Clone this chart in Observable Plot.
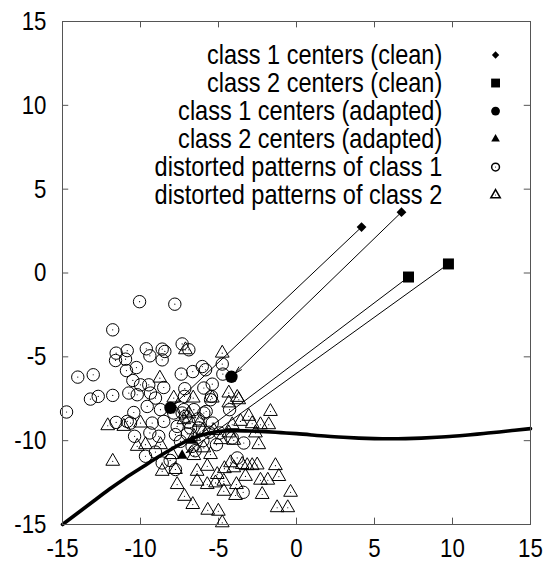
<!DOCTYPE html>
<html><head><meta charset="utf-8">
<script src="https://cdn.jsdelivr.net/npm/d3@7"></script>
<script src="https://cdn.jsdelivr.net/npm/@observablehq/plot@0.6"></script>
<style>body{margin:0;background:#fff;}</style>
</head><body><div id="chart"></div>
<script>
const tickValues = [-15, -10, -5, 0, 5, 10, 15];

const class1CleanX = [4.17, 6.73];
const class1CleanY = [2.74, 3.63];
const class2CleanX = [7.18, 9.74];
const class2CleanY = [-0.24, 0.54];
const class1AdaptedX = [-8.08, -4.17];
const class1AdaptedY = [-8.04, -6.19];
const class2AdaptedX = [-6.70, -7.33];
const class2AdaptedY = [-10.00, -10.89];

const boundaryX = [-15,-14,-13,-12,-11,-10,-9,-8,-7,-6,-5,-4,-3,-2,-1,0,1,2,3,4,5,6,7,8,9,10,11,12,13,14,15];
const boundaryY = [-15,-14.3,-13.6,-12.9,-12.25,-11.65,-11.05,-10.5,-10.0,-9.65,-9.45,-9.4,-9.42,-9.46,-9.52,-9.58,-9.66,-9.74,-9.8,-9.85,-9.88,-9.89,-9.88,-9.85,-9.8,-9.74,-9.66,-9.57,-9.48,-9.38,-9.28];

const pattern1X = [-10.06,-7.80,-11.78,-11.56,-10.85,-11.60,-10.96,-9.63,-9.40,-8.61,-8.44,-8.61,-7.33,-6.90,-10.26,-10.90,-14.02,-13.03,-14.74,-13.21,-12.71,-11.78,-10.49,-10.00,-9.47,-9.36,-8.51,-10.75,-10.21,-9.57,-9.04,-7.39,-6.65,-6.04,-5.83,-5.40,-4.76,-4.72,-7.16,-7.18,-10.43,-11.56,-10.85,-10.64,-10.38,-9.25,-8.51,-8.72,-9.40,-8.83,-9.68,-7.87,-7.33,-7.12,-7.65,-7.76,-7.44,-6.79,-6.26,-5.79,-5.94,-5.40,-4.92,-5.13,-4.29,-4.12,-3.38,-8.61,-6.69,-7.76,-3.42,-3.80,-5.45,-5.94,-5.51,-6.58,-7.22,-8.10,-9.04,-6.90,-6.30,-7.00,-6.50,-5.60,-6.00];
const pattern1Y = [-1.71,-1.86,-3.39,-4.78,-4.63,-5.22,-5.14,-4.52,-4.94,-4.54,-4.68,-5.18,-4.23,-4.58,-5.64,-5.82,-6.21,-6.07,-8.29,-7.52,-7.36,-7.30,-6.41,-6.67,-6.67,-7.16,-6.83,-7.16,-7.26,-7.96,-7.46,-6.03,-5.88,-5.58,-5.77,-6.63,-5.43,-6.03,-6.90,-7.36,-8.32,-8.91,-8.85,-8.95,-9.74,-8.95,-8.85,-8.15,-9.54,-9.74,-10.93,-8.35,-8.35,-8.55,-9.15,-9.64,-10.04,-9.24,-9.24,-8.26,-8.35,-8.95,-9.54,-10.24,-8.15,-9.84,-10.14,-11.33,-10.34,-11.72,-13.08,-11.03,-7.36,-6.86,-7.56,-8.15,-8.15,-11.18,-10.68,-8.90,-8.70,-9.60,-10.60,-9.50,-10.00];

const pattern2X = [-4.76,-7.12,-8.76,-12.10,-11.07,-10.00,-10.21,-9.68,-8.72,-11.78,-7.87,-6.62,-5.40,-4.34,-3.80,-7.22,-6.58,-5.94,-5.51,-6.58,-7.97,-8.61,-7.76,-7.65,-7.18,-6.65,-5.69,-5.01,-4.76,-6.37,-5.72,-6.37,-5.72,-5.08,-5.19,-4.66,-4.66,-3.91,-3.85,-3.27,-2.31,-1.84,-2.20,-1.24,-4.62,-4.23,-4.02,-3.48,-2.84,-2.52,-1.35,-2.42,-4.02,-4.12,-3.59,-3.06,-2.84,-2.31,-1.78,-1.67,-2.63,-4.34,-1.13,-0.38,-0.56,-4.34,-3.70,-4.87,-3.16,-6.90,-6.20,-5.30,-6.00];
const pattern2Y = [-4.78,-4.58,-6.27,-9.11,-9.15,-8.95,-10.34,-10.24,-10.24,-11.23,-7.46,-7.46,-7.46,-7.16,-7.42,-8.75,-9.74,-10.43,-10.83,-10.89,-10.83,-11.83,-11.72,-12.62,-13.32,-13.81,-14.15,-14.21,-14.90,-11.83,-11.53,-12.42,-12.62,-12.02,-12.52,-12.42,-13.02,-13.27,-12.62,-12.13,-12.36,-12.36,-13.21,-14.00,-11.67,-11.32,-11.62,-11.42,-11.49,-11.45,-11.49,-10.24,-9.98,-9.05,-8.85,-8.55,-8.99,-9.05,-9.05,-8.26,-9.54,-9.54,-12.14,-13.08,-14.00,-7.75,-7.56,-9.94,-11.49,-8.40,-8.90,-9.40,-9.40];

const legendLabels = [
  "class 1 centers (clean)",
  "class 2 centers (clean)",
  "class 1 centers (adapted)",
  "class 2 centers (adapted)",
  "distorted patterns of class 1",
  "distorted patterns of class 2"
];

const FONT = "'Liberation Sans', Arial, sans-serif";
const SQUEEZE = 0.84;

const pts = (xs, ys) => xs.map((x, i) => ({x, y: ys[i]}));
const pattern1 = pts(pattern1X, pattern1Y);
const pattern2 = pts(pattern2X, pattern2Y);
const c1clean = pts(class1CleanX, class1CleanY);
const c2clean = pts(class2CleanX, class2CleanY);
const c1ad = pts(class1AdaptedX, class1AdaptedY);
const c2ad = pts(class2AdaptedX, class2AdaptedY);
const boundary = pts(boundaryX, boundaryY);
const arrows = [
  {x1: class1CleanX[0], y1: class1CleanY[0], x2: class1AdaptedX[0], y2: class1AdaptedY[0]},
  {x1: class1CleanX[1], y1: class1CleanY[1], x2: class1AdaptedX[1], y2: class1AdaptedY[1]},
  {x1: class2CleanX[0], y1: class2CleanY[0], x2: class2AdaptedX[0], y2: class2AdaptedY[0]},
  {x1: class2CleanX[1], y1: class2CleanY[1], x2: class2AdaptedX[1], y2: class2AdaptedY[1]}
];

// legend layout (positions only)
const legTextX = 9.34, legMarkX = 12.76, legTop = 13.0, legStep = 1.67;
const legend = legendLabels.map((t, i) => ({t, i, y: legTop - i * legStep}));
const legSym = [
  {symbol: "diamond2", r: 3.3, fill: "black", stroke: "none"},
  {symbol: "square", r: 5.0, fill: "black", stroke: "none"},
  {symbol: "circle", r: 4.4, fill: "black", stroke: "none"},
  {symbol: "triangle", r: 3.2, fill: "black", stroke: "none"},
  {symbol: "circle", r: 3.9, fill: "none", stroke: "black"},
  {symbol: "triangle", r: 3.5, fill: "none", stroke: "black"}
];

const tickLenX = 0.38, tickLenY = 0.4;

const chart = Plot.plot({
  width: 547,
  height: 569,
  marginLeft: 62,
  marginRight: 17,
  marginTop: 21,
  marginBottom: 45,
  style: {fontFamily: FONT, fontSize: "26px", color: "black", background: "white"},
  x: {domain: [-15, 15], label: null},
  y: {domain: [-15, 15], label: null},
  marks: [
    Plot.axisX(tickValues, {tickSize: 0, tickPadding: 14, tickFormat: d => String(d), fontSize: 26.5}),
    Plot.axisY(tickValues, {tickSize: 0, tickPadding: 16, tickFormat: d => String(d), fontSize: 26.5}),
    // inward ticks on four sides
    Plot.ruleX(tickValues, {x: d => d, y1: -15, y2: -15 + tickLenX, stroke: "#555"}),
    Plot.ruleX(tickValues, {x: d => d, y1: 15, y2: 15 - tickLenX, stroke: "#555"}),
    Plot.ruleY(tickValues, {y: d => d, x1: -15, x2: -15 + tickLenY, stroke: "#555"}),
    Plot.ruleY(tickValues, {y: d => d, x1: 15, x2: 15 - tickLenY, stroke: "#555"}),
    // patterns
    Plot.dot(pattern1, {x: "x", y: "y", r: 6.2, symbol: "circle", fill: "none", stroke: "black", strokeWidth: 1}),
    Plot.dot(pattern1, {x: "x", y: "y", r: 0.6, fill: "black"}),
    Plot.dot(pattern2, {x: "x", y: "y", r: 5.1, symbol: "triangle", fill: "none", stroke: "black", strokeWidth: 1}),
    Plot.dot(pattern2, {x: "x", y: "y", r: 0.6, fill: "black"}),
    // boundary
    Plot.line(boundary, {x: "x", y: "y", curve: "natural", stroke: "black", strokeWidth: 3.6}),
    // arrows
    Plot.arrow(arrows, {x1: "x1", y1: "y1", x2: "x2", y2: "y2", stroke: "black", strokeWidth: 1, headLength: 11, headAngle: 30, insetEnd: 5}),
    // centers
    Plot.dot(c1clean, {x: "x", y: "y", r: 4.4, symbol: "diamond2", fill: "black"}),
    Plot.dot(c2clean, {x: "x", y: "y", r: 6.2, symbol: "square", fill: "black"}),
    Plot.dot(c1ad, {x: "x", y: "y", r: 6.2, symbol: "circle", fill: "black"}),
    Plot.dot(c2ad, {x: "x", y: "y", r: 4.0, symbol: "triangle", fill: "black"}),
    // legend
    Plot.text(legend, {x: legTextX, y: "y", text: "t", textAnchor: "end", fontSize: 28, fill: "black"}),
    ...legSym.map((s, i) => Plot.dot([legend[i]], {x: legMarkX, y: "y", r: s.r, symbol: s.symbol, fill: s.fill, stroke: s.stroke})),
    Plot.dot(legend.slice(4), {x: legMarkX, y: "y", r: 0.5, fill: "black"}),
    Plot.frame({stroke: "#555", strokeWidth: 1})
  ]
});
document.getElementById("chart").appendChild(chart);
// horizontally condense all text glyphs (the reference font is a narrow sans)
chart.querySelectorAll("text").forEach(t => {
  const len = t.getComputedTextLength();
  if (len > 0) {
    t.setAttribute("textLength", (len * SQUEEZE).toFixed(2));
    t.setAttribute("lengthAdjust", "spacingAndGlyphs");
  }
});
</script>
</body></html>
